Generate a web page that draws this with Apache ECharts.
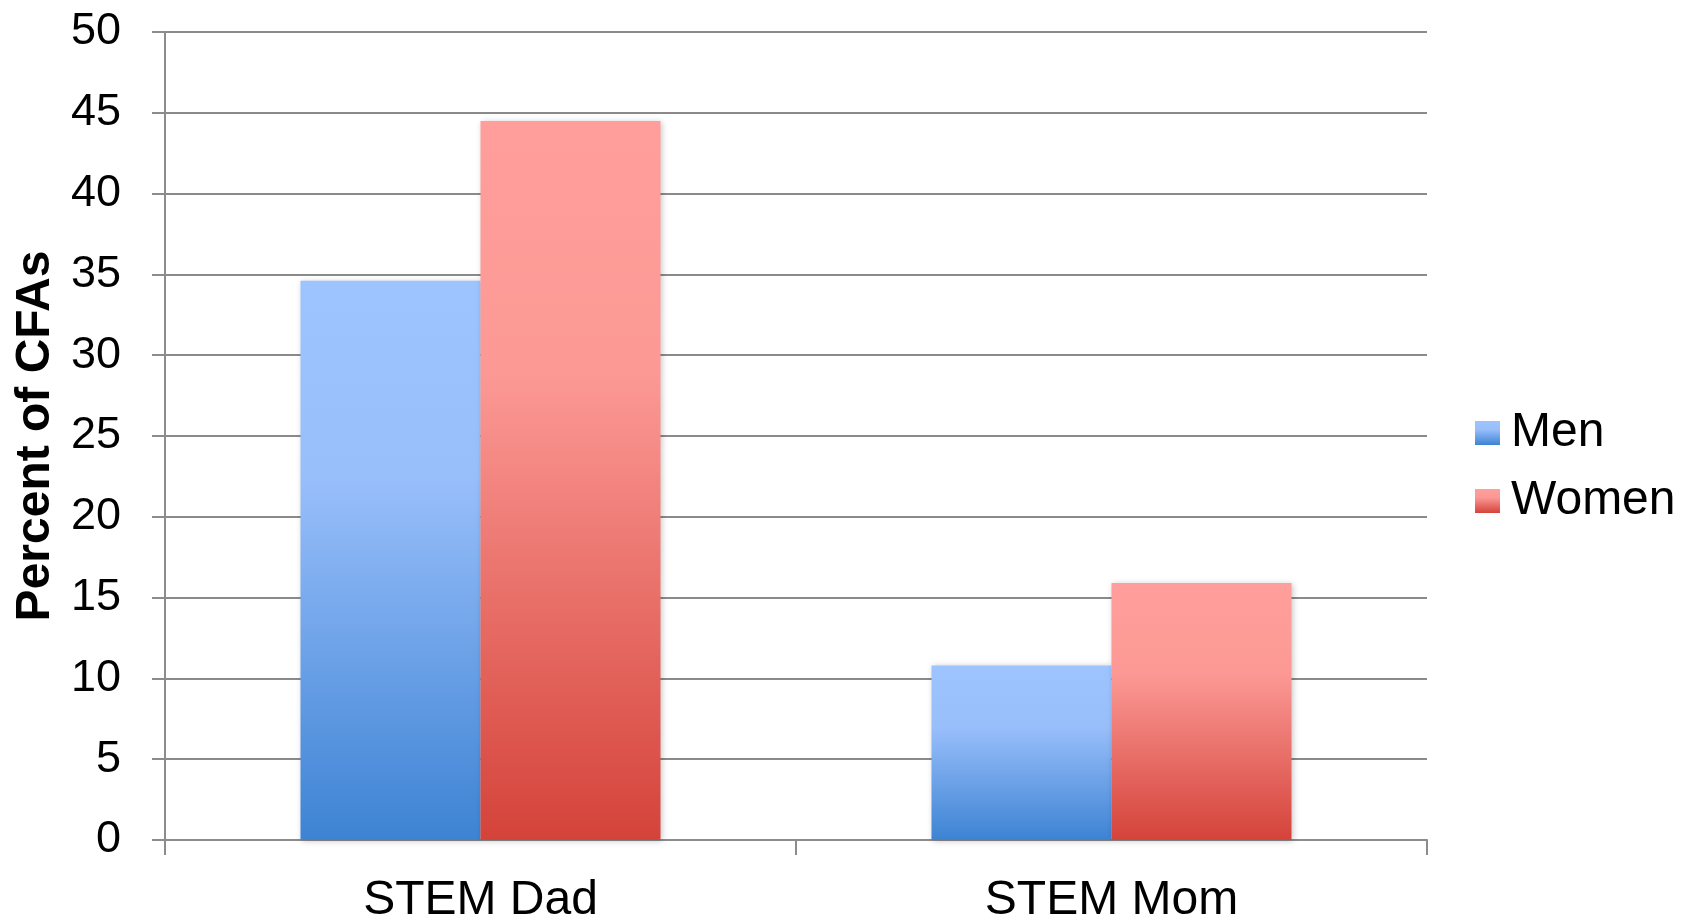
<!DOCTYPE html>
<html>
<head>
<meta charset="utf-8">
<style>
  html, body { margin: 0; padding: 0; background: #fff; }
  #chart { width: 1690px; height: 920px; }
</style>
<script src="https://cdn.jsdelivr.net/npm/echarts@6/dist/echarts.min.js"></script>
</head>
<body>
<div id="chart"></div>
<script>
// Share of CFAs with a parent in STEM, by respondent gender
const categories = ['STEM Dad', 'STEM Mom'];
const menValues = [34.6, 10.8];
const womenValues = [44.5, 15.9];
const yTicks = [0, 5, 10, 15, 20, 25, 30, 35, 40, 45, 50];

const FONT = '"Liberation Sans", Arial, sans-serif';

function vGradient(stops) {
  return new echarts.graphic.LinearGradient(0, 0, 0, 1,
    stops.map(([offset, color]) => ({ offset, color })));
}

const menFill = vGradient([[0, '#9EC4FF'], [0.35, '#99BFFB'], [1, '#3D83D3']]);
const womenFill = vGradient([[0, '#FF9E9B'], [0.35, '#FC9995'], [1, '#D4433A']]);

const barShadow = {
  shadowBlur: 6,
  shadowColor: 'rgba(0,0,0,0.22)',
  shadowOffsetX: 1,
  shadowOffsetY: 1
};

const chart = echarts.init(document.getElementById('chart'), null, { renderer: 'canvas' });

chart.setOption({
  animation: false,
  backgroundColor: '#ffffff',
  grid: { left: 165, right: 263, top: 32, bottom: 80, containLabel: false, outerBoundsMode: 'none' },
  legend: {
    orient: 'vertical',
    left: 1470,
    top: 404,
    itemWidth: 25,
    itemHeight: 24,
    itemGap: 20,
    icon: 'rect',
    selectedMode: false,
    textStyle: { fontFamily: FONT, fontSize: 48, color: '#000', padding: [0, 0, 0, 6] },
    data: ['Men', 'Women']
  },
  xAxis: {
    type: 'category',
    data: categories,
    axisLine: { lineStyle: { color: '#8c8c8c', width: 2 } },
    axisTick: { show: true, length: 15, lineStyle: { color: '#8c8c8c', width: 2 } },
    axisLabel: { fontFamily: FONT, fontSize: 48, color: '#000', margin: 37 }
  },
  yAxis: {
    type: 'value',
    min: yTicks[0],
    max: yTicks[yTicks.length - 1],
    interval: yTicks[1] - yTicks[0],
    name: 'Percent of CFAs',
    nameLocation: 'middle',
    nameGap: 105,
    nameTextStyle: { fontFamily: FONT, fontSize: 48, fontWeight: 'bold', color: '#000' },
    axisLine: { show: true, lineStyle: { color: '#8c8c8c', width: 2 } },
    axisTick: { show: true, length: 13, lineStyle: { color: '#8c8c8c', width: 2 } },
    axisLabel: { fontFamily: FONT, fontSize: 45, color: '#000', margin: 44 },
    splitLine: { show: true, lineStyle: { color: '#8a8a8a', width: 2 } }
  },
  series: [
    {
      name: 'Men',
      type: 'bar',
      data: menValues,
      barWidth: 180,
      barGap: '0%',
      itemStyle: Object.assign({ color: menFill }, barShadow)
    },
    {
      name: 'Women',
      type: 'bar',
      data: womenValues,
      barWidth: 180,
      barGap: '0%',
      itemStyle: Object.assign({ color: womenFill }, barShadow)
    }
  ]
});
</script>
</body>
</html>
